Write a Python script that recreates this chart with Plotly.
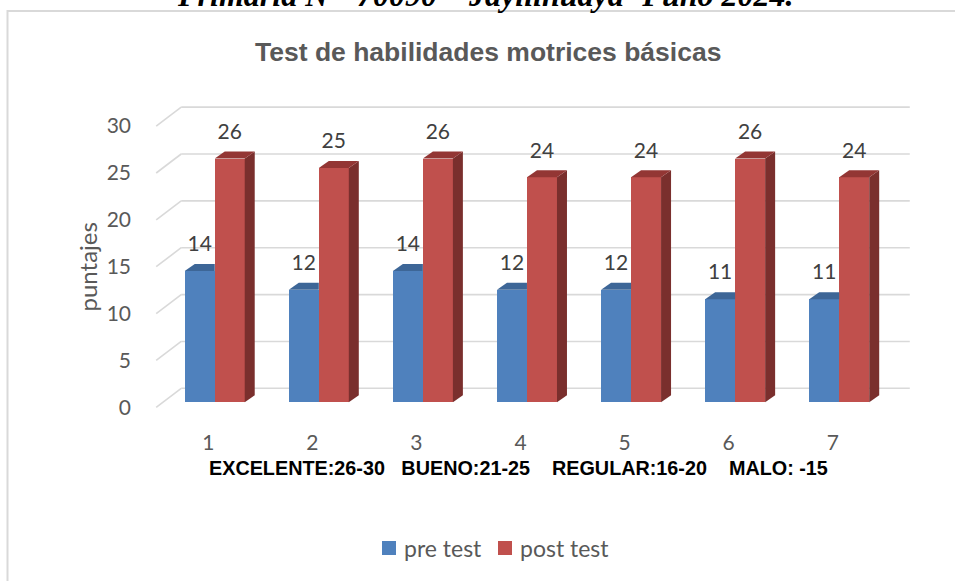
import plotly.graph_objects as go

# ---- data ----
categories = [1, 2, 3, 4, 5, 6, 7]
pre_test = [14, 12, 14, 12, 12, 11, 11]
post_test = [26, 25, 26, 24, 24, 26, 24]
y_ticks = [0, 5, 10, 15, 20, 25, 30]
series_names = ["pre test", "post test"]

title_text = "Test de habilidades motrices básicas"
top_text = "Primaria N°&nbsp;&nbsp;70090 – Jayllihuaya- Puno 2024."
footer_text = "EXCELENTE:26-30&nbsp;&nbsp;&nbsp;BUENO:21-25&nbsp;&nbsp;&nbsp;&nbsp;REGULAR:16-20&nbsp;&nbsp;&nbsp;&nbsp;MALO: -15"
y_title = "puntajes"

# ---- geometry / style ----
W, H = 955, 581
X_RANGE = [0.45, 7.8]
Y_RANGE = [-0.5, 33]
PL, PR, PT, PB = 151, 916, 98, 412

px_per_x = (PR - PL) / (X_RANGE[1] - X_RANGE[0])
px_per_y = (PB - PT) / (Y_RANGE[1] - Y_RANGE[0])

WALL_DX = 25 / px_per_x      # depth of the floor (back wall offset)
WALL_DY = 19 / px_per_y
BAR_DX = 10 / px_per_x       # depth of each bar
BAR_DY = 7 / px_per_y
BAR_BASE = 5 / px_per_y      # bars sit slightly behind the front edge
BAR_W = 30 / px_per_x
OFFS = [-0.226, -0.226 + BAR_W]
LABEL_GAP = 25 / px_per_y

FRONT = ["#4F81BD", "#C0504D"]
TOP = ["#3D6697", "#933634"]
SIDE = ["#375A85", "#7A2F2D"]
GRID = "#D9D9D9"
FONT = "Lato, Carlito, Calibri, sans-serif"
NARROW = "Liberation Sans Narrow, Arial Narrow, Liberation Sans, Arial, sans-serif"


def xp(px):
    return (px - PL) / (PR - PL)


def yp(py):
    return (PB - py) / (PB - PT)


fig = go.Figure()

series = [pre_test, post_test]

# front faces as bars
for i, vals in enumerate(series):
    fig.add_trace(go.Bar(
        x=categories, y=vals, base=BAR_BASE, offset=OFFS[i], width=BAR_W,
        name=series_names[i], marker=dict(color=FRONT[i], line=dict(width=0)),
        hoverinfo="skip", showlegend=False,
    ))

# 3D faces (top and side) computed from values
for c, v0, v1 in zip(categories, pre_test, post_test):
    for i, v in enumerate((v0, v1)):
        x0 = c + OFFS[i]
        x1 = x0 + BAR_W
        t = v + BAR_BASE
        b = BAR_BASE
        if i == 1:
            fig.add_trace(go.Scatter(
                x=[x1, x1 + BAR_DX, x1 + BAR_DX, x1, x1],
                y=[b, b + BAR_DY, t + BAR_DY, t, b],
                fill="toself", fillcolor=SIDE[i], mode="lines",
                line=dict(width=0, color=SIDE[i]), showlegend=False, hoverinfo="skip"))
            fig.add_trace(go.Scatter(
                x=[x0, x1, x1 + BAR_DX, x0 + BAR_DX, x0],
                y=[t, t, t + BAR_DY, t + BAR_DY, t],
                fill="toself", fillcolor=TOP[i], mode="lines",
                line=dict(width=0, color=TOP[i]), showlegend=False, hoverinfo="skip"))
        else:
            fig.add_trace(go.Scatter(
                x=[x0, x1, x1, x0 + BAR_DX, x0],
                y=[t, t, t + BAR_DY, t + BAR_DY, t],
                fill="toself", fillcolor=TOP[i], mode="lines",
                line=dict(width=0, color=TOP[i]), showlegend=False, hoverinfo="skip"))

# data labels
for i, vals in enumerate(series):
    fig.add_trace(go.Scatter(
        x=[c + OFFS[i] + BAR_W / 2 for c in categories],
        y=[v + BAR_BASE + LABEL_GAP for v in vals],
        mode="text", text=[str(v) for v in vals], textposition="middle center",
        textfont=dict(family=FONT, size=21, color="#404040"),
        showlegend=False, hoverinfo="skip"))

# grid lines on the back wall and floor diagonals
shapes = []
for v in y_ticks:
    shapes.append(dict(type="line", xref="x", yref="y", layer="below",
                       x0=0.5 + WALL_DX, x1=7.5 + WALL_DX, y0=v + WALL_DY, y1=v + WALL_DY,
                       line=dict(color=GRID, width=1.6)))
    shapes.append(dict(type="line", xref="x", yref="y", layer="below",
                       x0=0.5, x1=0.5 + WALL_DX, y0=v, y1=v + WALL_DY,
                       line=dict(color=GRID, width=1.6)))
# outer frame
shapes.append(dict(type="rect", xref="paper", yref="paper", layer="below",
                   x0=xp(7.5), x1=xp(975), y0=yp(600), y1=yp(11),
                   line=dict(color="#D9D9D9", width=2), fillcolor="rgba(0,0,0,0)"))

# legend (squares + labels)
legend_sq_x = [382, 498]
legend_tx_x = [402, 518]
LEG_Y = 548
for i in range(2):
    shapes.append(dict(type="rect", xref="paper", yref="paper",
                       x0=xp(legend_sq_x[i]), x1=xp(legend_sq_x[i] + 14),
                       y0=yp(LEG_Y + 7), y1=yp(LEG_Y - 7),
                       line=dict(width=0), fillcolor=FRONT[i]))

annotations = [
    dict(text="<b><i>" + top_text + "</i></b>", xref="paper", yref="paper", x=xp(485), y=yp(-5),
         xanchor="center", yanchor="middle", showarrow=False,
         font=dict(family="Liberation Serif, Times New Roman, serif", size=32, color="#000000")),
    dict(text="<b>" + title_text + "</b>", xref="paper", yref="paper", x=xp(488), y=yp(52),
         xanchor="center", yanchor="middle", showarrow=False,
         font=dict(family=NARROW, size=26.5, color="#595959")),
    dict(text="<b>" + footer_text + "</b>", xref="paper", yref="paper", x=xp(518), y=yp(468),
         xanchor="center", yanchor="middle", showarrow=False,
         font=dict(family=NARROW, size=19.8, color="#000000")),
    dict(text=y_title, xref="paper", yref="paper", x=xp(86.5), y=yp(267),
         xanchor="center", yanchor="middle", showarrow=False, textangle=-90,
         font=dict(family=FONT, size=24, color="#595959")),
]
for i in range(2):
    annotations.append(dict(text=series_names[i], xref="paper", yref="paper",
                            x=xp(legend_tx_x[i]), y=yp(LEG_Y), xanchor="left", yanchor="middle",
                            showarrow=False,
                            font=dict(family=FONT, size=23, color="#595959")))

fig.update_layout(
    width=W, height=H, autosize=False,
    margin=dict(l=PL, r=W - PR, t=PT, b=H - PB),
    paper_bgcolor="white", plot_bgcolor="rgba(0,0,0,0)",
    barmode="overlay", bargap=0,
    shapes=shapes, annotations=annotations,
    showlegend=False,
    xaxis=dict(range=X_RANGE, tickvals=categories, ticktext=[str(c) for c in categories],
               showgrid=False, zeroline=False, showline=False, ticks="",
               ticklabelstandoff=16, fixedrange=True,
               tickfont=dict(family=FONT, size=21, color="#595959")),
    yaxis=dict(range=Y_RANGE, tickvals=y_ticks, showgrid=False, zeroline=False,
               showline=False, ticks="", ticklabelstandoff=19, fixedrange=True,
               tickfont=dict(family=FONT, size=21, color="#595959")),
)

fig.write_html("out.html", config={"displayModeBar": False},
               post_script="document.body.style.margin='0px';")
